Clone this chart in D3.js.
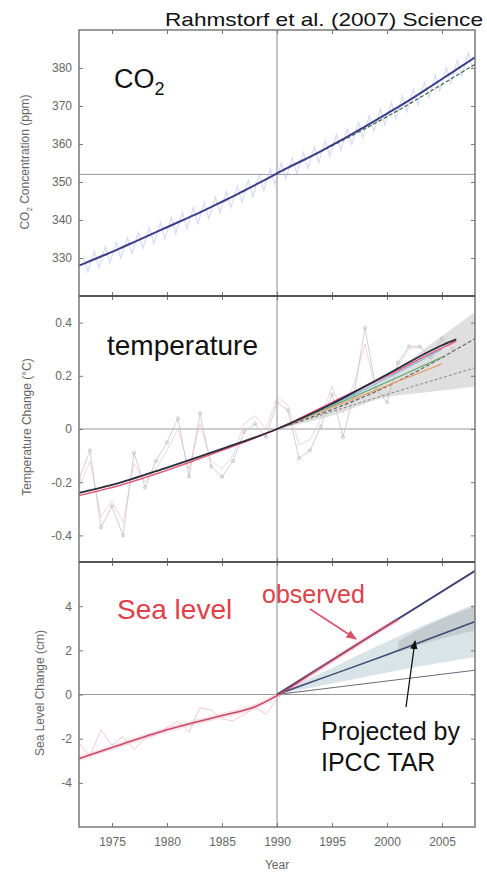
<!DOCTYPE html>
<html><head><meta charset="utf-8">
<script src="https://cdn.jsdelivr.net/npm/d3@7"></script>
<style>
html,body{margin:0;padding:0;background:#fff;}
svg{display:block;font-family:"Liberation Sans",Arial,sans-serif;}
</style></head>
<body>
<svg id="c" width="487" height="873"></svg>
<script>
// ---------- DATA ----------
const yearTicks = [1975,1980,1985,1990,1995,2000,2005];

const co2Years = [1972,1973,1974,1975,1976,1977,1978,1979,1980,1981,1982,1983,1984,1985,1986,1987,1988,1989,1990,1991,1992,1993,1994,1995,1996,1997,1998,1999,2000,2001,2002,2003,2004,2005,2006,2007,2008];
const co2Trend = [328.0,329.2,330.4,331.6,332.9,334.2,335.5,336.8,338.1,339.4,340.7,342.0,343.4,344.8,346.2,347.7,349.2,350.7,352.3,353.8,355.2,356.6,358.1,359.7,361.3,362.9,364.6,366.3,368.0,369.7,371.5,373.3,375.2,377.1,379.0,380.9,382.8];
const co2SeasonYears = [1972,1973,1974,1975,1976,1977,1978,1979,1980,1981,1982,1983,1984,1985,1986,1987,1988,1989,1990,1991,1992,1993,1994,1995,1996,1997,1998,1999,2000,2001,2002,2003,2004,2005,2006,2007];
const co2SeasonHigh = [330.6,331.8,333.0,334.1,335.4,336.8,338.0,339.3,340.7,342.0,343.3,344.7,346.1,347.5,348.9,350.5,352.0,353.5,355.0,356.4,357.8,359.3,360.9,362.5,364.1,365.8,367.5,369.2,370.9,372.7,374.5,376.3,378.2,380.1,382.0,383.9];
const co2SeasonLow  = [326.4,327.5,328.7,329.9,331.2,332.5,333.8,335.1,336.4,337.7,339.0,340.4,341.8,343.2,344.7,346.2,347.7,349.3,350.8,352.2,353.6,355.1,356.7,358.3,359.9,361.6,363.3,365.0,366.7,368.5,370.3,372.2,374.1,376.0,377.9,379.8];
const co2ProjYears = [1990,2000,2008];
const co2Proj = [352.3,367.2,381.0];
const co2Ticks = [330,340,350,360,370,380];
const co2Ref = 352;

const tempYears = [1972,1973,1974,1975,1976,1977,1978,1979,1980,1981,1982,1983,1984,1985,1986,1987,1988,1989,1990,1991,1992,1993,1994,1995,1996,1997,1998,1999,2000,2001,2002,2003,2004,2005,2006];
const tempObsA = [-0.19,-0.08,-0.37,-0.29,-0.40,-0.09,-0.22,-0.12,-0.05,0.04,-0.18,0.06,-0.14,-0.18,-0.12,-0.01,0.02,-0.03,0.10,0.07,-0.11,-0.08,0.01,0.13,-0.03,0.13,0.38,0.15,0.10,0.25,0.31,0.31,0.27,0.34,0.30];
const tempObsB = [-0.22,-0.12,-0.33,-0.27,-0.35,-0.13,-0.20,-0.15,-0.08,0.00,-0.15,0.02,-0.12,-0.15,-0.10,0.02,0.05,0.00,0.12,0.09,-0.06,-0.04,0.04,0.16,0.06,0.17,0.32,0.14,0.12,0.24,0.30,0.31,0.26,0.33,0.31];
const tempSmoothYears = [1972,1975,1980,1985,1990,1995,2000,2005,2006.3];
const tempSmoothBlack = [-0.24,-0.21,-0.145,-0.075,0.0,0.095,0.205,0.315,0.337];
const tempSmoothRed   = [-0.25,-0.22,-0.155,-0.08,0.0,0.10,0.20,0.305,0.33];
const tempBandYears = [1990,1995,2000,2004,2008];
const tempBandHigh = [0,0.09,0.20,0.32,0.44];
const tempBandLow  = [0,0.05,0.12,0.14,0.16];
const tempProjYears = [1990,1998,2005];
const tempProjGreen  = [0,0.14,0.27];
const tempProjOrange = [0,0.13,0.245];
const tempProjBlue   = [0,0.15,0.30];
const tempProjMidYears = [1990,2000,2008];
const tempProjMid = [0,0.16,0.34];
const tempProjLow = [0,0.13,0.23];
const tempTicks = [-0.4,-0.2,0,0.2,0.4];
const tempTickLabels = ["-0.4","-0.2","0","0.2","0.4"];

const seaGaugeYears = [1972,1973,1974,1975,1976,1977,1978,1979,1980,1981,1982,1983,1984,1985,1986,1987,1988,1989,1990,1991,1992];
const seaGauge = [-2.2,-2.8,-1.6,-2.3,-1.9,-2.5,-2.0,-1.8,-1.5,-1.2,-1.7,-0.6,-0.7,-1.1,-1.2,-0.9,-0.6,-0.9,-0.2,0.3,0.5];
const seaObsYears = [1972,1975,1980,1985,1988,1990,1993,1996,1999,2001];
const seaObs = [-2.9,-2.4,-1.6,-0.95,-0.55,-0.05,0.9,1.85,2.8,3.4];
const seaTrendYears = [1990,2008];
const seaTrend = [0,5.6];
const seaBandYears = [1990,1995,2000,2008];
const seaBandHigh = [0,1.2,2.4,4.1];
const seaBandLow  = [0,0.5,1.0,1.7];
const seaInnerYears = [2001,2004,2008];
const seaInnerHigh = [2.4,3.2,4.0];
const seaInnerLow  = [1.9,2.4,2.9];
const seaProjMidYears = [1990,1995,2000,2008];
const seaProjMid = [0,0.9,1.8,3.3];
const seaProjLowYears = [1990,2008];
const seaProjLow = [0,1.1];
const seaTicks = [-4,-2,0,2,4];

// ---------- LAYOUT ----------
const svg = d3.select("#c");
const L = 79, R = 475;
const x = d3.scaleLinear().domain([1972,2008]).range([L,R]);
const P = {
  co2:  {top:30,  bot:296},
  temp: {top:296, bot:562},
  sea:  {top:562, bot:827}
};
const yC = d3.scaleLinear().domain([320,390]).range([P.co2.bot,P.co2.top]);
const yT = d3.scaleLinear().domain([-0.5,0.5]).range([P.temp.bot,P.temp.top]);
const yS = d3.scaleLinear().domain([-6,6]).range([P.sea.bot,P.sea.top]);

const defs = svg.append("defs");
function arrow(id,color){
  defs.append("marker").attr("id",id).attr("viewBox","0 0 10 10").attr("refX",9).attr("refY",5)
    .attr("markerWidth",7).attr("markerHeight",7).attr("orient","auto")
    .append("path").attr("d","M0,1 L10,5 L0,9 Z").attr("fill",color);
}
arrow("arR","#d9506a"); arrow("arK","#111");

function clip(id,p){
  defs.append("clipPath").attr("id",id).append("rect").attr("x",L).attr("y",p.top).attr("width",R-L).attr("height",p.bot-p.top);
}
clip("cc",P.co2); clip("ct",P.temp); clip("cs",P.sea);

const zip = (xs,ys)=>xs.map((v,i)=>[v,ys[i]]);
function line(g,xs,ys,ysc,opts){
  const ln = d3.line().x(d=>x(d[0])).y(d=>ysc(d[1])).curve(opts.curve||d3.curveLinear);
  return g.append("path").attr("d",ln(zip(xs,ys))).attr("fill","none")
    .attr("stroke",opts.color).attr("stroke-width",opts.w||1)
    .attr("stroke-opacity",opts.op==null?1:opts.op)
    .attr("stroke-dasharray",opts.dash||null);
}
function band(g,xs,hi,lo,ysc,color,op){
  const a = d3.area().x(d=>x(d[0])).y0(d=>ysc(d[2])).y1(d=>ysc(d[1])).curve(d3.curveMonotoneX);
  g.append("path").attr("d",a(xs.map((v,i)=>[v,hi[i],lo[i]]))).attr("fill",color).attr("fill-opacity",op);
}

// ---------- reference lines ----------
const grid = svg.append("g");
grid.append("line").attr("x1",x(1990)).attr("x2",x(1990)).attr("y1",P.co2.top).attr("y2",P.sea.bot).attr("stroke","#8a8a8a").attr("stroke-width",1);
grid.append("line").attr("x1",L).attr("x2",R).attr("y1",yC(co2Ref)).attr("y2",yC(co2Ref)).attr("stroke","#999").attr("stroke-width",1);
grid.append("line").attr("x1",L).attr("x2",R).attr("y1",yT(0)).attr("y2",yT(0)).attr("stroke","#999").attr("stroke-width",1);
grid.append("line").attr("x1",L).attr("x2",R).attr("y1",yS(0)).attr("y2",yS(0)).attr("stroke","#999").attr("stroke-width",1);

// ---------- CO2 ----------
const gc = svg.append("g").attr("clip-path","url(#cc)");
const zz = [];
co2SeasonYears.forEach((yr,i)=>{ zz.push([yr+0.4,co2SeasonHigh[i]]); zz.push([yr+0.8,co2SeasonLow[i]]); });
gc.append("path").attr("d",d3.line().x(d=>x(d[0])).y(d=>yC(d[1]))(zz)).attr("fill","none")
  .attr("stroke","#9aa6f2").attr("stroke-width",1.2).attr("stroke-opacity",0.4);
line(gc,co2ProjYears,co2Proj,yC,{color:"#3a6a4a",w:1.2,dash:"4,2",curve:d3.curveMonotoneX});
line(gc,co2Years,co2Trend,yC,{color:"#3d3f86",w:2,curve:d3.curveMonotoneX});

// ---------- Temperature ----------
const gt = svg.append("g").attr("clip-path","url(#ct)");
band(gt,tempBandYears,tempBandHigh,tempBandLow,yT,"#c4c4c4",0.55);
line(gt,tempYears,tempObsB,yT,{color:"#f4b8c8",w:1,op:0.6});
line(gt,tempYears,tempObsA,yT,{color:"#c4c4c4",w:1,op:0.8});
gt.selectAll("circle.ta").data(zip(tempYears,tempObsA)).join("circle").attr("class","ta")
  .attr("cx",d=>x(d[0])).attr("cy",d=>yT(d[1])).attr("r",1.5).attr("fill","none").attr("stroke","#bbb").attr("stroke-width",0.8);
line(gt,tempProjMidYears,tempProjLow,yT,{color:"#888",w:1,dash:"3,2",curve:d3.curveMonotoneX});
line(gt,tempProjMidYears,tempProjMid,yT,{color:"#666",w:1.2,dash:"4,2",curve:d3.curveMonotoneX});
line(gt,tempProjYears,tempProjOrange,yT,{color:"#e8a070",w:1.2,curve:d3.curveMonotoneX});
line(gt,tempProjYears,tempProjGreen,yT,{color:"#58a868",w:1.2,curve:d3.curveMonotoneX});
line(gt,tempProjYears,tempProjBlue,yT,{color:"#80b8e0",w:1.2,curve:d3.curveMonotoneX});
line(gt,tempSmoothYears,tempSmoothRed,yT,{color:"#e06080",w:1.6,curve:d3.curveMonotoneX});
line(gt,tempSmoothYears,tempSmoothBlack,yT,{color:"#2a2a3a",w:1.8,curve:d3.curveMonotoneX});

// ---------- Sea level ----------
const gs = svg.append("g").attr("clip-path","url(#cs)");
band(gs,seaBandYears,seaBandHigh,seaBandLow,yS,"#c9d8e0",0.7);
band(gs,seaInnerYears,seaInnerHigh,seaInnerLow,yS,"#b4b8bc",0.55);
line(gs,seaGaugeYears,seaGauge,yS,{color:"#f2b0c0",w:1,op:0.7});
line(gs,seaObsYears,seaObs,yS,{color:"#f4b8c6",w:5,op:0.45,curve:d3.curveMonotoneX});
line(gs,seaProjLowYears,seaProjLow,yS,{color:"#6a6a7a",w:1});
line(gs,seaProjMidYears,seaProjMid,yS,{color:"#3d4a70",w:1.5,curve:d3.curveMonotoneX});
line(gs,seaTrendYears,seaTrend,yS,{color:"#3d3f70",w:1.8});
line(gs,seaObsYears,seaObs,yS,{color:"#c84a6a",w:1.6,curve:d3.curveMonotoneX});

// ---------- frame & axes ----------
const ax = svg.append("g");
svg.append("rect").attr("x",L).attr("y",P.co2.top).attr("width",R-L).attr("height",P.sea.bot-P.co2.top)
  .attr("fill","none").attr("stroke","#7a7a7a").attr("stroke-width",1.5);
[P.temp.top,P.sea.top].forEach(yy=>{
  svg.append("line").attr("x1",L).attr("x2",R).attr("y1",yy).attr("y2",yy).attr("stroke","#555").attr("stroke-width",1.8);
});

function styleAxis(g,showLabels){
  g.select(".domain").remove();
  g.selectAll(".tick line").attr("stroke","#777");
  g.selectAll(".tick text").attr("fill","#666").attr("font-size",12).attr("font-family","Liberation Sans, Arial, sans-serif");
  if(!showLabels) g.selectAll(".tick text").remove();
}
function yAxes(ysc,ticks,labels){
  const gl = ax.append("g").attr("transform",`translate(${L},0)`)
    .call(d3.axisLeft(ysc).tickValues(ticks).tickSize(-4).tickPadding(7).tickFormat((d,i)=>labels?labels[i]:d));
  styleAxis(gl,true);
  const gr = ax.append("g").attr("transform",`translate(${R},0)`)
    .call(d3.axisRight(ysc).tickValues(ticks).tickSize(-4));
  styleAxis(gr,false);
}
yAxes(yC,co2Ticks);
yAxes(yT,tempTicks,tempTickLabels);
yAxes(yS,seaTicks);

Object.values(P).forEach((p,k)=>{
  const gtop = ax.append("g").attr("transform",`translate(0,${p.top})`).call(d3.axisTop(x).tickValues(yearTicks).tickSize(-4));
  styleAxis(gtop,false);
  const gb = ax.append("g").attr("transform",`translate(0,${p.bot})`).call(d3.axisBottom(x).tickValues(yearTicks).tickSize(-4).tickPadding(10).tickFormat(d3.format("d")));
  styleAxis(gb,k===2);
});

// ---------- texts ----------
const T = svg.append("g").attr("font-family","Liberation Sans, Arial, sans-serif");
T.append("text").attr("x",483).attr("y",26).attr("text-anchor","end").attr("font-size",19)
  .attr("textLength",318).attr("lengthAdjust","spacingAndGlyphs").attr("fill","#111").text("Rahmstorf et al. (2007) Science");

T.append("text").attr("x",277).attr("y",869).attr("text-anchor","middle").attr("font-size",12).attr("fill","#666").text("Year");

function ylab(cx,cy,build){
  const t = T.append("text").attr("transform",`translate(${cx},${cy}) rotate(-90)`).attr("text-anchor","middle")
    .attr("font-size",12).attr("fill","#666");
  build(t);
}
ylab(29,162,t=>{ t.append("tspan").text("CO"); t.append("tspan").attr("font-size",8).attr("dy",3).text("2");
  t.append("tspan").attr("dy",-3).text(" Concentration (ppm)"); });
ylab(31,427,t=>t.text("Temperature Change (°C)"));
ylab(44,693,t=>t.text("Sea Level Change (cm)"));

const co2t = T.append("text").attr("x",114).attr("y",88).attr("font-size",27).attr("fill","#111");
co2t.append("tspan").text("CO"); co2t.append("tspan").attr("font-size",18).attr("dy",7).text("2");
T.append("text").attr("x",107).attr("y",355).attr("font-size",28).attr("fill","#111").text("temperature");
T.append("text").attr("x",117).attr("y",619).attr("font-size",28).attr("fill","#e0404a").text("Sea level");
T.append("text").attr("x",262).attr("y",603).attr("font-size",25).attr("fill","#e0404a").text("observed");
T.append("text").attr("x",321).attr("y",740).attr("font-size",25).attr("fill","#111").text("Projected by");
T.append("text").attr("x",321).attr("y",771).attr("font-size",25).attr("fill","#111").text("IPCC TAR");

svg.append("line").attr("x1",310).attr("y1",609).attr("x2",356).attr("y2",639)
  .attr("stroke","#d9506a").attr("stroke-width",1.5).attr("marker-end","url(#arR)");
svg.append("line").attr("x1",406).attr("y1",707).attr("x2",415).attr("y2",641)
  .attr("stroke","#111").attr("stroke-width",1.3).attr("marker-end","url(#arK)");
</script>
</body></html>
